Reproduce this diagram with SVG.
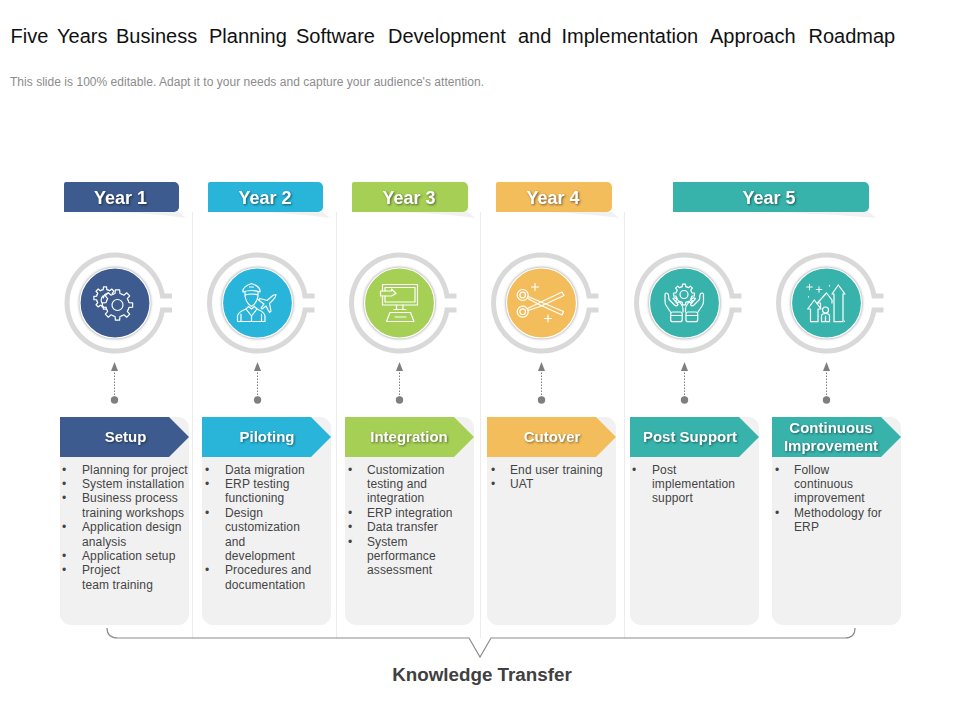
<svg xmlns="http://www.w3.org/2000/svg" width="960" height="720" viewBox="0 0 960 720">
<style>
text{font-family:"Liberation Sans",Arial,sans-serif}
.title{font-size:20px;fill:#111}
.sub{font-size:12px;fill:#8c8c8c}
.yr{font-size:18px;font-weight:700;fill:#fff;text-anchor:middle;filter:drop-shadow(1px 1px 1px rgba(0,0,0,.5))}
.hd{font-size:15px;font-weight:700;fill:#fff;text-anchor:middle;filter:drop-shadow(1px 1px 1px rgba(0,0,0,.45))}
.body{font-size:12px;fill:#444;letter-spacing:.12px}
.kt{font-size:18.800px;font-weight:700;fill:#404040;text-anchor:middle}
.card{fill:#f1f1f1}
.sw{fill:#f1f1f1}
.sep{stroke:#ececec;stroke-width:1;fill:none}
.ring{fill:none;stroke:#d9d9d9;stroke-width:5}
.disc{stroke:#fff;stroke-width:1.2;filter:drop-shadow(0 0 1.5px rgba(0,0,0,.45))}
.ic{fill:none;stroke:#fff;stroke-width:1.2;stroke-linejoin:round;stroke-linecap:round}
.dot{fill:#7f7f7f}
.arr{stroke:#7f7f7f;stroke-width:1;stroke-dasharray:1.5 1.5;fill:none;marker-end:url(#tip)}
.br{fill:none;stroke:#8c8c8c;stroke-width:1.2}
.c1{fill:#3d5b8f}.c2{fill:#29b5d9}.c3{fill:#a5cf55}.c4{fill:#f4bd5c}.c5{fill:#38b3ac}
</style>
<defs>
<marker id="tip" markerWidth="9" markerHeight="8" refX="0" refY="4" orient="auto" viewBox="0 0 9 8" markerUnits="userSpaceOnUse"><path d="M0 0.500L9 4L0 7.500Z" fill="#7f7f7f"/></marker>
<path id="ringshape" class="ring" d="M57 -7H47.500A48 48 0 1 0 47.500 7H57"/>
<path id="t" d="M-4.970-12.010L-2.700-12.720L-2.370-16.830L2.370-16.830L2.700-12.720L4.970-12.010"/>
<g id="gear">
<use href="#t"/><use href="#t" transform="rotate(45)"/><use href="#t" transform="rotate(90)"/><use href="#t" transform="rotate(135)"/><use href="#t" transform="rotate(180)"/><use href="#t" transform="rotate(225)"/><use href="#t" transform="rotate(270)"/><use href="#t" transform="rotate(315)"/>
</g>
<path id="spark" d="M0-3.500V3.500M-3.500 0H3.500"/>
</defs>

<g id="heading">
<text class="title" y="43"><tspan x="10.500">Five</tspan><tspan x="57">Years</tspan><tspan x="116">Business</tspan><tspan x="209">Planning</tspan><tspan x="296">Software</tspan><tspan x="388">Development</tspan><tspan x="518">and</tspan><tspan x="561.500">Implementation</tspan><tspan x="710">Approach</tspan><tspan x="808.500">Roadmap</tspan></text>
<text class="sub" x="10" y="86" textLength="474">This slide is 100% editable. Adapt it to your needs and capture your audience's attention.</text>
</g>

<g id="separators">
<path class="sep" d="M192.500 212V638M336.500 212V638M480.500 212V638M624.500 212V638"/>
</g>

<g id="year-1"><path class="sw" d="M110 212H179L186 218Q150 213 110 212Z"/><path class="c1" d="M66 182H174a5 5 0 0 1 5 5V207a5 5 0 0 1-5 5H64V184a2 2 0 0 1 2-2Z"/><text class="yr" x="120.500" y="203.500">Year 1</text></g>
<g id="year-2"><path class="sw" d="M254 212H323L330 218Q294 213 254 212Z"/><path class="c2" d="M210 182H318a5 5 0 0 1 5 5V207a5 5 0 0 1-5 5H208V184a2 2 0 0 1 2-2Z"/><text class="yr" x="265" y="203.500">Year 2</text></g>
<g id="year-3"><path class="sw" d="M398 212H468L475 218Q438 213 398 212Z"/><path class="c3" d="M354 182H463a5 5 0 0 1 5 5V207a5 5 0 0 1-5 5H352V184a2 2 0 0 1 2-2Z"/><text class="yr" x="409" y="203.500">Year 3</text></g>
<g id="year-4"><path class="sw" d="M542 212H612L619 218Q582 213 542 212Z"/><path class="c4" d="M498 182H607a5 5 0 0 1 5 5V207a5 5 0 0 1-5 5H496V184a2 2 0 0 1 2-2Z"/><text class="yr" x="553" y="203.500">Year 4</text></g>
<g id="year-5"><path class="sw" d="M745 212H869L876 218Q820 213 745 212Z"/><path class="c5" d="M673 182H864a5 5 0 0 1 5 5V207a5 5 0 0 1-5 5H673Z"/><text class="yr" x="769" y="203.500">Year 5</text></g>

<g id="icon-setup">
<use href="#ringshape" transform="translate(115 303)"/>
<circle class="disc c1" cx="115" cy="303" r="35"/>
<g class="ic"><use href="#gear" transform="translate(105 298) scale(.66)" stroke-width="1.800"/><path d="M103.500 298a5 5 0 0 1 5-5M102 303a6 6 0 0 1 1-7"/>
<circle cx="117.500" cy="305" r="11.500" fill="#3d5b8f" stroke="none"/><use href="#gear" transform="translate(117.500 305) scale(.9)" stroke-width="1.300"/><circle cx="117.500" cy="305" r="5.500"/></g>
</g>
<g id="icon-piloting">
<use href="#ringshape" transform="translate(257.500 303)"/>
<circle class="disc c2" cx="257.500" cy="303" r="35"/>
<g class="ic">
<path d="M276 294.500Q273 294.500 270.500 297.500L267 300.500L260 298.500L258.500 300L264 304L261 308L262 309L266 306L269.500 312.500L271 311L269.500 303.500L273 300Q276 297 276 294.500Z"/>
<path d="M243 292Q242 287 251.500 283.500Q261 287 260 292Q251.500 289 243 292Z"/>
<path class="c2" d="M245 292V296Q246 303 251.500 306.500Q257 303 258 296V292M245 295Q251.500 293 258 295M249.500 287H253.500"/>
<path class="c2" d="M237.500 321.500V316Q238 312 246 309L248.500 306.500L251.500 309L254.500 306.500L257 309Q264.500 312 265 316V321.500Z"/>
<path d="M246 309L251.500 316L257 309M251.500 316V321.500M241 321.500V314M261.500 321.500V314"/>
</g>
</g>
<g id="icon-integration">
<use href="#ringshape" transform="translate(399.500 303)"/>
<circle class="disc c3" cx="399.500" cy="303" r="35"/>
<g class="ic">
<path d="M382.500 291V284.500H417.500V305H382.500V296"/><path d="M385 291V287.500H415V302H385V296"/>
<path d="M380.500 291H391.500V289L396 293.500L391.500 296H380.500Z"/>
<path d="M396.500 305V309M403 305V309M394 309.500H406"/>
<path d="M390 312.500H410.500L414 321.500H386.500ZM395 317H406"/>
</g>
</g>
<g id="icon-cutover">
<use href="#ringshape" transform="translate(541.500 303)"/>
<circle class="disc c4" cx="541.500" cy="303" r="35"/>
<g class="ic">
<circle cx="522.700" cy="295" r="5.500"/><circle cx="522.700" cy="295" r="2.800"/>
<circle cx="522.700" cy="311.700" r="5.500"/><circle cx="522.700" cy="311.700" r="2.800"/>
<path d="M528 296.500L563.500 311.500L562 315L539 304.500L528 298.500"/>
<path d="M527.500 308.500L562 292L564 295.500L540 306.500L528 310.500"/>
<use href="#spark" transform="translate(535 287)"/><use href="#spark" transform="translate(548 318.500)"/>
</g>
</g>
<g id="icon-post-support">
<use href="#ringshape" transform="translate(684.500 303)"/>
<circle class="disc c5" cx="684.500" cy="303" r="35"/>
<g class="ic">
<use href="#gear" transform="translate(684 294.500) scale(.62)" stroke-width="1.900"/><circle cx="684" cy="294.500" r="4"/>
<path d="M670.500 312L666.500 306Q665 304 665 301V294.500Q665 293 666.500 293Q668 293 668.500 295L669 299.500L674.500 305Q677 307 678 304.500L673 298.500Q675 297 677 299L681 304Q683 306.500 683 309V312"/>
<path d="M698 312L702 306Q703.500 304 703.500 301V294.500Q703.500 293 702 293Q700.500 293 700 295L699.500 299.500L694 305Q691.500 307 690.500 304.500L695.500 298.500Q693.500 297 691.500 299L687.500 304Q685.500 306.500 685.500 309V312"/>
<rect x="670.700" y="312" width="11.500" height="9.700" rx="2"/><rect x="686" y="312" width="11.700" height="9.700" rx="2"/>
<path d="M670.700 315.500H682.200M686 315.500H697.700"/>
</g>
</g>
<g id="icon-continuous">
<use href="#ringshape" transform="translate(826.500 303)"/>
<circle class="disc c5" cx="826.500" cy="303" r="35"/>
<g class="ic">
<path d="M834 321.700V294H832L838.300 285L845 294H843V321.700Z"/>
<path d="M820.500 308V303H817.500L826.500 293L832 300V303"/>
<path d="M810.500 321.700V309H807.700L814.300 300L821 309H818V321.700Z"/>
<circle cx="825.500" cy="310" r="3"/><path d="M821.500 321.700V316Q821.500 313.500 825.500 313.500Q829.500 313.500 829.500 316V321.700ZM825.500 316V321.700"/>
<use href="#spark" transform="translate(809.500 287) scale(.8)"/><use href="#spark" transform="translate(819 289.500) scale(.8)"/>
<path d="M829.500 285.500V286M808.500 296.500V297M844.500 321V321.500"/>
</g>
</g>

<g id="connectors">
<path class="arr" d="M114.500 398V371"/><circle class="dot" cx="114.500" cy="400" r="3.700"/>
<path class="arr" d="M257.500 398V371"/><circle class="dot" cx="257.500" cy="400" r="3.700"/>
<path class="arr" d="M399.500 398V371"/><circle class="dot" cx="399.500" cy="400" r="3.700"/>
<path class="arr" d="M541.500 398V371"/><circle class="dot" cx="541.500" cy="400" r="3.700"/>
<path class="arr" d="M684.500 398V371"/><circle class="dot" cx="684.500" cy="400" r="3.700"/>
<path class="arr" d="M826.500 398V371"/><circle class="dot" cx="826.500" cy="400" r="3.700"/>
</g>

<g id="card-setup"><rect class="card" x="60" y="417" width="129" height="208" rx="11"/><path class="c1" d="M60 417H169L189 437L169 457H60Z"/><text class="hd" x="125.500" y="442">Setup</text>
<text class="body"><tspan x="62" y="474">•</tspan><tspan x="82">Planning for project</tspan><tspan x="62" y="488">•</tspan><tspan x="82">System installation</tspan><tspan x="62" y="502">•</tspan><tspan x="82">Business process</tspan><tspan x="82" y="517">training workshops</tspan><tspan x="62" y="531">•</tspan><tspan x="82">Application design</tspan><tspan x="82" y="546">analysis</tspan><tspan x="62" y="560">•</tspan><tspan x="82">Application setup</tspan><tspan x="62" y="574">•</tspan><tspan x="82">Project</tspan><tspan x="82" y="589">team training</tspan></text></g>
<g id="card-piloting"><rect class="card" x="202" y="417" width="129" height="208" rx="11"/><path class="c2" d="M202 417H311L331 437L311 457H202Z"/><text class="hd" x="267" y="442">Piloting</text>
<text class="body"><tspan x="205" y="474">•</tspan><tspan x="225">Data migration</tspan><tspan x="205" y="488">•</tspan><tspan x="225">ERP testing</tspan><tspan x="225" y="502">functioning</tspan><tspan x="205" y="517">•</tspan><tspan x="225">Design</tspan><tspan x="225" y="531">customization</tspan><tspan x="225" y="546">and</tspan><tspan x="225" y="560">development</tspan><tspan x="205" y="574">•</tspan><tspan x="225">Procedures and</tspan><tspan x="225" y="589">documentation</tspan></text></g>
<g id="card-integration"><rect class="card" x="345" y="417" width="129" height="208" rx="11"/><path class="c3" d="M345 417H454L474 437L454 457H345Z"/><text class="hd" x="409" y="442">Integration</text>
<text class="body"><tspan x="348" y="474">•</tspan><tspan x="367">Customization</tspan><tspan x="367" y="488">testing and</tspan><tspan x="367" y="502">integration</tspan><tspan x="348" y="517">•</tspan><tspan x="367">ERP integration</tspan><tspan x="348" y="531">•</tspan><tspan x="367">Data transfer</tspan><tspan x="348" y="546">•</tspan><tspan x="367">System</tspan><tspan x="367" y="560">performance</tspan><tspan x="367" y="574">assessment</tspan></text></g>
<g id="card-cutover"><rect class="card" x="487" y="417" width="129" height="208" rx="11"/><path class="c4" d="M487 417H596L616 437L596 457H487Z"/><text class="hd" x="552" y="442">Cutover</text>
<text class="body"><tspan x="491" y="474">•</tspan><tspan x="510">End user training</tspan><tspan x="491" y="488">•</tspan><tspan x="510">UAT</tspan></text></g>
<g id="card-post-support"><rect class="card" x="630" y="417" width="129" height="208" rx="11"/><path class="c5" d="M630 417H739L759 437L739 457H630Z"/><text class="hd" x="690" y="442">Post Support</text>
<text class="body"><tspan x="632" y="474">•</tspan><tspan x="652">Post</tspan><tspan x="652" y="488">implementation</tspan><tspan x="652" y="502">support</tspan></text></g>
<g id="card-continuous"><rect class="card" x="772" y="417" width="129" height="208" rx="11"/><path class="c5" d="M772 417H881L901 437L881 457H772Z"/><text class="hd"><tspan x="831" y="433">Continuous</tspan><tspan x="831" y="451">Improvement</tspan></text>
<text class="body"><tspan x="775" y="474">•</tspan><tspan x="794">Follow</tspan><tspan x="794" y="488">continuous</tspan><tspan x="794" y="502">improvement</tspan><tspan x="775" y="517">•</tspan><tspan x="794">Methodology for</tspan><tspan x="794" y="531">ERP</tspan></text></g>

<g id="knowledge-transfer">
<path class="br" d="M107 628Q107 638 118 638H469L480 657L491 638H845Q855 638 855 628"/>
<text class="kt" x="482" y="681">Knowledge Transfer</text>
</g>
</svg>
